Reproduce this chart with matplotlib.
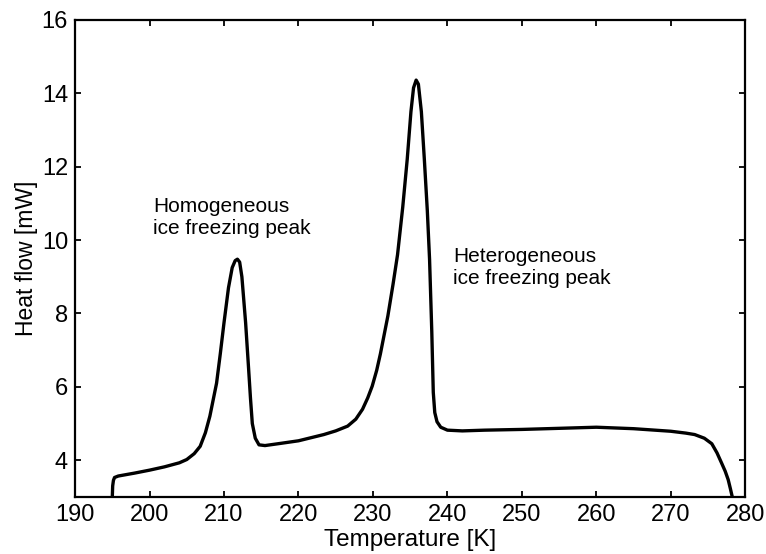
import matplotlib
matplotlib.use("Agg")
import matplotlib.pyplot as plt

plt.rcParams['font.family'] = ['Liberation Sans', 'DejaVu Sans']

temperature = [195.0, 195.05, 195.15, 195.3, 195.8, 198, 200, 202, 204, 205, 206, 206.8, 207.5,
               208.1, 208.6, 209.0, 209.5, 210.0, 210.6, 211.1, 211.5, 211.8, 212.1, 212.4, 212.9,
               213.3, 213.55, 213.8, 214.2, 214.7, 215.5, 217.6, 220, 223.4, 225, 226.6,
               227.7, 228.6, 229.3, 229.9, 230.5, 231.0, 232.0, 232.7, 233.3, 234.0,
               234.6, 235.1, 235.45, 235.8, 236.1, 236.5, 236.9, 237.3, 237.6, 237.9,
               238.1, 238.3, 238.6, 239.1, 240, 242, 245, 250, 255, 260, 265, 270, 272,
               273.2, 274.5, 275.5, 276.2, 276.8, 277.3, 277.7, 278.0, 278.25]
heat_flow = [3.0, 3.3, 3.45, 3.53, 3.57, 3.65, 3.73, 3.82, 3.93, 4.02, 4.18, 4.38, 4.75,
             5.2, 5.7, 6.1, 6.9, 7.75, 8.7, 9.25, 9.44, 9.48, 9.4, 9.0, 7.75,
             6.5, 5.7, 5.0, 4.6, 4.42, 4.4, 4.46, 4.53, 4.70, 4.8, 4.93,
             5.12, 5.39, 5.7, 6.02, 6.45, 6.9, 7.93, 8.8, 9.6, 10.9,
             12.2, 13.5, 14.15, 14.36, 14.25, 13.5, 12.2, 10.8, 9.48, 7.5,
             5.85, 5.3, 5.05, 4.9, 4.82, 4.8, 4.82, 4.84, 4.87, 4.9, 4.86, 4.79, 4.74,
             4.7, 4.6, 4.45, 4.2, 3.93, 3.7, 3.47, 3.22, 3.0]

x_ticks = [190, 200, 210, 220, 230, 240, 250, 260, 270, 280]
y_ticks = [4, 6, 8, 10, 12, 14, 16]

fig = plt.figure(figsize=(7.66, 5.54), dpi=100)
ax = fig.add_axes([0.098, 0.103, 0.875, 0.861])
ax.plot(temperature, heat_flow, color='black', lw=2.4, solid_joinstyle='round')
ax.set_xlim(190, 280)
ax.set_ylim(3, 16)
ax.set_xticks(x_ticks)
ax.set_yticks(y_ticks)
ax.tick_params(direction='in', top=True, right=True, length=4.5, width=1.3,
               labelsize=17, pad=5)
for s in ax.spines.values():
    s.set_linewidth(1.6)
ax.set_xlabel('Temperature [K]', fontsize=17.5, labelpad=2)
ax.set_ylabel('Heat flow [mW]', fontsize=16.5, labelpad=3)

ax.text(200.46, 10.77, 'Homogeneous', fontsize=15, va='baseline', ha='left')
ax.text(200.46, 10.17, 'ice freezing peak', fontsize=15, va='baseline', ha='left')
ax.text(240.8, 9.39, 'Heterogeneous', fontsize=15, va='baseline', ha='left')
ax.text(240.8, 8.79, 'ice freezing peak', fontsize=15, va='baseline', ha='left')

fig.savefig('out.png', dpi=100)
